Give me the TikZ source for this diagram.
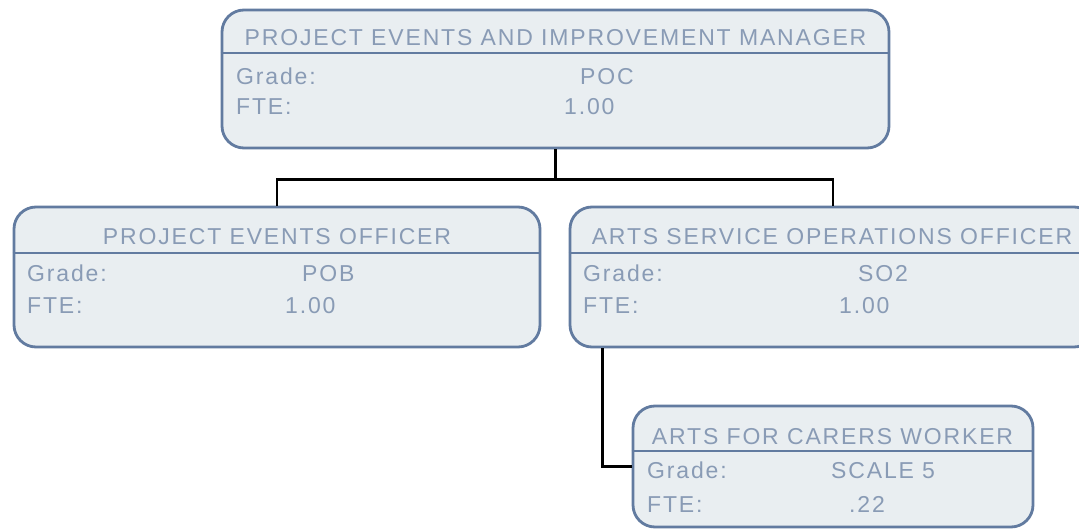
\documentclass[tikz,border=0pt]{standalone}
\usepackage{fontspec}
\newfontfamily\boxfont{Liberation Sans}[LetterSpace=8]
\definecolor{bordercol}{RGB}{98,123,160}
\definecolor{fillcol}{RGB}{233,238,241}
\definecolor{textcol}{RGB}{137,155,181}
\begin{document}
\begin{tikzpicture}[x=1pt,y=-1pt,
  box/.style={draw=bordercol, fill=fillcol, line width=2.8pt, rounded corners=22pt, inner sep=0pt},
  divider/.style={draw=bordercol, line width=2.8pt},
  txt/.style={font=\boxfont\fontsize{23}{27}\selectfont, text=textcol, inner sep=0pt},
  ttl/.style={txt, anchor=base},
  lbl/.style={txt, anchor=base west},
  conn/.style={draw=black, line width=2.8pt}]
\fill[white] (0,0) rectangle (1079,529);
\useasboundingbox (0,0) rectangle (1079,529);

% boxes
\node[box, minimum width=667pt, minimum height=138pt] (mgr) at (555.5,79) {};
\node[box, minimum width=526pt, minimum height=140pt] (peo) at (277,277) {};
\node[box, minimum width=526pt, minimum height=140pt] (aso) at (833,277) {};
\node[box, minimum width=400pt, minimum height=121pt] (acw) at (833,466.5) {};

% dividers
\draw[divider] (mgr.west |- 0,53) -- (mgr.east |- 0,53);
\draw[divider] (peo.west |- 0,253) -- (peo.east |- 0,253);
\draw[divider] (aso.west |- 0,253) -- (aso.east |- 0,253);
\draw[divider] (acw.west |- 0,451) -- (acw.east |- 0,451);

% top box text
\node[ttl] (mgrT) at (555.5,46) {PROJECT EVENTS AND IMPROVEMENT MANAGER};
\node[lbl] (mgrG) at (236,85) {Grade:};
\node[lbl] (mgrGv) at (580,85) {POC};
\node[lbl] (mgrF) at (236,115) {FTE:};
\node[lbl] (mgrFv) at (564,115) {1.00};

% left box text
\node[ttl] (peoT) at (277,245) {PROJECT EVENTS OFFICER};
\node[lbl] (peoG) at (27,282) {Grade:};
\node[lbl] (peoGv) at (302,282) {POB};
\node[lbl] (peoF) at (27,313) {FTE:};
\node[lbl] (peoFv) at (285,313) {1.00};

% right box text
\node[ttl] (asoT) at (832,245) {ARTS SERVICE OPERATIONS OFFICER};
\node[lbl] (asoG) at (583,282) {Grade:};
\node[lbl] (asoGv) at (858,282) {SO2};
\node[lbl] (asoF) at (583,313) {FTE:};
\node[lbl] (asoFv) at (839,313) {1.00};

% bottom box text
\node[ttl] (acwT) at (832.5,444) {ARTS FOR CARERS WORKER};
\node[lbl] (acwG) at (647,478) {Grade:};
\node[lbl] (acwGv) at (831,478) {SCALE 5};
\node[lbl] (acwF) at (647,512) {FTE:};
\node[lbl] (acwFv) at (849,512) {.22};

% connectors
\draw[conn] (mgr.south) -- ++(0,30) coordinate (j1);
\draw[conn] (peo.north) |- (j1) -| (aso.north);
\draw[conn] ([xshift=34pt]aso.south west) |- (acw.west);
\end{tikzpicture}
\end{document}
